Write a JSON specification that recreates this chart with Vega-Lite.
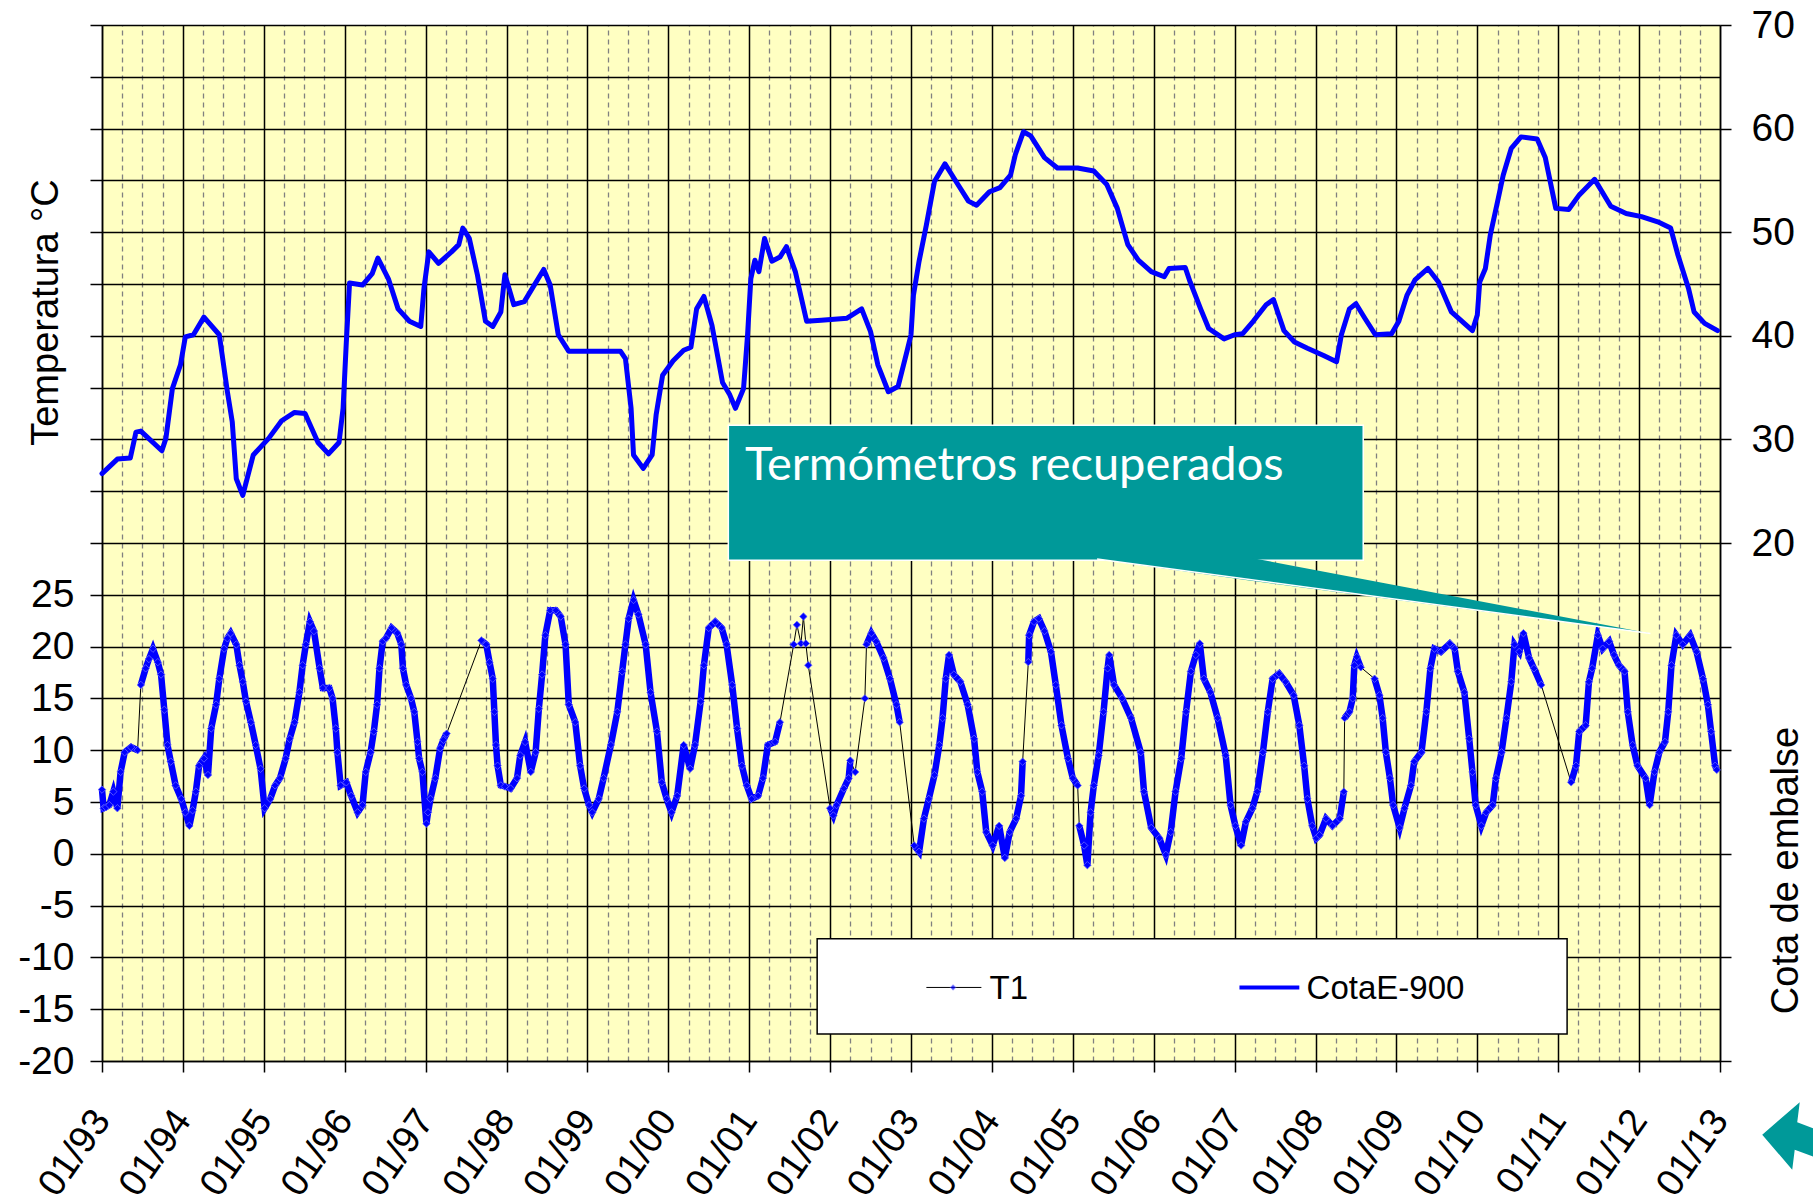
{
"$schema":"https://vega.github.io/schema/vega-lite/v6.json",
"width":1618,"height":1036,
"autosize":{"type":"none"},
"padding":{"left":102,"top":25,"right":93,"bottom":141},
"background":"#ffffff",
"config":{"view":{"fill":"#FFFFC2","stroke":null},"axis":{"labelFont":"Liberation Sans","titleFont":"Liberation Sans","labelColor":"#000000","titleColor":"#000000","titleFontWeight":"normal"}},
"datasets":{
"t1":[
{"yr":1993.00,"t":6.2,"run":1},{"yr":1993.02,"t":4.4,"run":1},{"yr":1993.05,"t":4.5,"run":1},{"yr":1993.09,"t":4.7,"run":1},{"yr":1993.14,"t":6.0,"run":1},{"yr":1993.19,"t":4.4,"run":1},{"yr":1993.23,"t":7.9,"run":1},{"yr":1993.28,"t":9.8,"run":1},{"yr":1993.36,"t":10.3,"run":1},{"yr":1993.44,"t":10.0,"run":1},
{"yr":1993.48,"t":16.3,"run":2},{"yr":1993.54,"t":17.9,"run":2},{"yr":1993.58,"t":18.8,"run":2},{"yr":1993.63,"t":19.8,"run":2},{"yr":1993.69,"t":18.5,"run":2},{"yr":1993.73,"t":17.3,"run":2},{"yr":1993.77,"t":13.9,"run":2},{"yr":1993.81,"t":10.5,"run":2},{"yr":1993.85,"t":8.9,"run":2},{"yr":1993.91,"t":6.6,"run":2},{"yr":1993.98,"t":5.3,"run":2},{"yr":1994.03,"t":4.0,"run":2},{"yr":1994.08,"t":2.7,"run":2},{"yr":1994.12,"t":4.2,"run":2},{"yr":1994.16,"t":6.0,"run":2},{"yr":1994.20,"t":8.5,"run":2},{"yr":1994.26,"t":9.2,"run":2},{"yr":1994.31,"t":7.6,"run":2},{"yr":1994.35,"t":12.1,"run":2},{"yr":1994.41,"t":14.4,"run":2},{"yr":1994.45,"t":16.9,"run":2},{"yr":1994.51,"t":19.8,"run":2},{"yr":1994.55,"t":20.8,"run":2},{"yr":1994.59,"t":21.3,"run":2},{"yr":1994.66,"t":20.2,"run":2},{"yr":1994.70,"t":18.2,"run":2},{"yr":1994.74,"t":16.6,"run":2},{"yr":1994.78,"t":14.7,"run":2},{"yr":1994.84,"t":12.7,"run":2},{"yr":1994.90,"t":10.5,"run":2},{"yr":1994.96,"t":8.2,"run":2},{"yr":1995.01,"t":4.4,"run":2},{"yr":1995.08,"t":5.3,"run":2},{"yr":1995.14,"t":6.6,"run":2},{"yr":1995.20,"t":7.3,"run":2},{"yr":1995.27,"t":9.2,"run":2},{"yr":1995.32,"t":11.1,"run":2},{"yr":1995.38,"t":12.7,"run":2},{"yr":1995.44,"t":15.6,"run":2},{"yr":1995.48,"t":18.2,"run":2},{"yr":1995.52,"t":20.2,"run":2},{"yr":1995.57,"t":22.4,"run":2},{"yr":1995.62,"t":21.5,"run":2},{"yr":1995.69,"t":17.9,"run":2},{"yr":1995.73,"t":16.0,"run":2},{"yr":1995.81,"t":16.0,"run":2},{"yr":1995.85,"t":15.0,"run":2},{"yr":1995.89,"t":12.1,"run":2},{"yr":1995.91,"t":9.8,"run":2},{"yr":1995.95,"t":6.6,"run":2},{"yr":1996.02,"t":6.9,"run":2},{"yr":1996.08,"t":5.6,"run":2},{"yr":1996.16,"t":4.0,"run":2},{"yr":1996.22,"t":4.7,"run":2},{"yr":1996.26,"t":7.9,"run":2},{"yr":1996.32,"t":9.8,"run":2},{"yr":1996.36,"t":11.8,"run":2},{"yr":1996.40,"t":14.4,"run":2},{"yr":1996.43,"t":17.9,"run":2},{"yr":1996.47,"t":20.5,"run":2},{"yr":1996.51,"t":20.8,"run":2},{"yr":1996.58,"t":21.8,"run":2},{"yr":1996.65,"t":21.3,"run":2},{"yr":1996.70,"t":20.2,"run":2},{"yr":1996.72,"t":17.9,"run":2},{"yr":1996.76,"t":16.3,"run":2},{"yr":1996.82,"t":15.0,"run":2},{"yr":1996.86,"t":13.7,"run":2},{"yr":1996.90,"t":10.8,"run":2},{"yr":1996.92,"t":9.2,"run":2},{"yr":1996.96,"t":7.9,"run":2},{"yr":1997.01,"t":2.9,"run":2},{"yr":1997.03,"t":4.0,"run":2},{"yr":1997.06,"t":5.3,"run":2},{"yr":1997.12,"t":7.3,"run":2},{"yr":1997.18,"t":10.2,"run":2},{"yr":1997.22,"t":11.0,"run":2},{"yr":1997.26,"t":11.6,"run":2},
{"yr":1997.69,"t":20.6,"run":3},{"yr":1997.75,"t":20.2,"run":3},{"yr":1997.79,"t":18.5,"run":3},{"yr":1997.83,"t":16.9,"run":3},{"yr":1997.85,"t":13.7,"run":3},{"yr":1997.87,"t":10.5,"run":3},{"yr":1997.89,"t":8.5,"run":3},{"yr":1997.93,"t":6.6,"run":3},{"yr":1997.98,"t":6.5,"run":3},{"yr":1998.05,"t":6.3,"run":3},{"yr":1998.13,"t":7.3,"run":3},{"yr":1998.17,"t":9.5,"run":3},{"yr":1998.23,"t":10.8,"run":3},{"yr":1998.30,"t":7.9,"run":3},{"yr":1998.36,"t":9.8,"run":3},{"yr":1998.40,"t":14.0,"run":3},{"yr":1998.44,"t":17.3,"run":3},{"yr":1998.48,"t":21.1,"run":3},{"yr":1998.54,"t":23.5,"run":3},{"yr":1998.61,"t":23.5,"run":3},{"yr":1998.67,"t":22.9,"run":3},{"yr":1998.73,"t":20.2,"run":3},{"yr":1998.77,"t":14.4,"run":3},{"yr":1998.85,"t":12.7,"run":3},{"yr":1998.91,"t":8.5,"run":3},{"yr":1998.96,"t":6.3,"run":3},{"yr":1999.02,"t":4.7,"run":3},{"yr":1999.06,"t":4.0,"run":3},{"yr":1999.14,"t":5.3,"run":3},{"yr":1999.20,"t":7.3,"run":3},{"yr":1999.29,"t":10.5,"run":3},{"yr":1999.37,"t":13.7,"run":3},{"yr":1999.43,"t":17.6,"run":3},{"yr":1999.47,"t":20.2,"run":3},{"yr":1999.51,"t":22.7,"run":3},{"yr":1999.57,"t":24.5,"run":3},{"yr":1999.63,"t":23.1,"run":3},{"yr":1999.72,"t":20.2,"run":3},{"yr":1999.78,"t":15.6,"run":3},{"yr":1999.86,"t":11.8,"run":3},{"yr":1999.92,"t":6.9,"run":3},{"yr":1999.98,"t":5.3,"run":3},{"yr":2000.04,"t":4.0,"run":3},{"yr":2000.11,"t":5.6,"run":3},{"yr":2000.19,"t":10.5,"run":3},{"yr":2000.27,"t":8.2,"run":3},{"yr":2000.33,"t":10.5,"run":3},{"yr":2000.40,"t":14.7,"run":3},{"yr":2000.44,"t":18.2,"run":3},{"yr":2000.50,"t":21.8,"run":3},{"yr":2000.58,"t":22.4,"run":3},{"yr":2000.66,"t":21.8,"run":3},{"yr":2000.72,"t":20.2,"run":3},{"yr":2000.79,"t":16.3,"run":3},{"yr":2000.85,"t":12.1,"run":3},{"yr":2000.91,"t":8.5,"run":3},{"yr":2000.97,"t":6.6,"run":3},{"yr":2001.03,"t":5.3,"run":3},{"yr":2001.11,"t":5.6,"run":3},{"yr":2001.17,"t":7.3,"run":3},{"yr":2001.23,"t":10.5,"run":3},{"yr":2001.32,"t":10.8,"run":3},{"yr":2001.38,"t":12.7,"run":3},
{"yr":2001.55,"t":20.2,"run":4},{"yr":2001.59,"t":22.1,"run":5},{"yr":2001.64,"t":20.3,"run":6},{"yr":2001.67,"t":22.9,"run":7},{"yr":2001.70,"t":20.3,"run":8},{"yr":2001.73,"t":18.2,"run":9},
{"yr":2002.00,"t":4.4,"run":10},{"yr":2002.04,"t":3.7,"run":10},{"yr":2002.08,"t":4.7,"run":10},{"yr":2002.17,"t":6.3,"run":10},{"yr":2002.23,"t":7.3,"run":10},{"yr":2002.25,"t":9.0,"run":10},
{"yr":2002.31,"t":7.9,"run":11},{"yr":2002.43,"t":15.0,"run":12},
{"yr":2002.45,"t":20.2,"run":13},{"yr":2002.51,"t":21.3,"run":13},{"yr":2002.57,"t":20.5,"run":13},{"yr":2002.66,"t":18.9,"run":13},{"yr":2002.74,"t":16.9,"run":13},{"yr":2002.82,"t":14.4,"run":13},{"yr":2002.86,"t":12.7,"run":13},
{"yr":2003.04,"t":0.8,"run":14},{"yr":2003.10,"t":0.2,"run":14},{"yr":2003.16,"t":3.4,"run":14},{"yr":2003.22,"t":5.3,"run":14},{"yr":2003.29,"t":7.6,"run":14},{"yr":2003.35,"t":10.5,"run":14},{"yr":2003.39,"t":13.1,"run":14},{"yr":2003.43,"t":16.9,"run":14},{"yr":2003.47,"t":19.2,"run":14},{"yr":2003.53,"t":17.3,"run":14},{"yr":2003.61,"t":16.6,"run":14},{"yr":2003.70,"t":14.4,"run":14},{"yr":2003.78,"t":11.1,"run":14},{"yr":2003.82,"t":7.9,"run":14},{"yr":2003.88,"t":6.0,"run":14},{"yr":2003.93,"t":2.1,"run":14},{"yr":2004.01,"t":0.8,"run":14},{"yr":2004.09,"t":2.7,"run":14},{"yr":2004.16,"t":-0.4,"run":14},{"yr":2004.22,"t":2.1,"run":14},{"yr":2004.30,"t":3.4,"run":14},{"yr":2004.36,"t":5.6,"run":14},{"yr":2004.38,"t":8.9,"run":14},
{"yr":2004.45,"t":18.5,"run":15},{"yr":2004.46,"t":21.1,"run":15},{"yr":2004.52,"t":22.4,"run":15},{"yr":2004.58,"t":22.7,"run":15},{"yr":2004.65,"t":21.5,"run":15},{"yr":2004.73,"t":19.5,"run":15},{"yr":2004.79,"t":16.3,"run":15},{"yr":2004.86,"t":12.4,"run":15},{"yr":2004.94,"t":9.2,"run":15},{"yr":2005.00,"t":7.3,"run":15},{"yr":2005.06,"t":6.6,"run":15},
{"yr":2005.08,"t":2.7,"run":16},{"yr":2005.14,"t":0.8,"run":16},{"yr":2005.18,"t":-1.1,"run":16},{"yr":2005.22,"t":4.0,"run":16},{"yr":2005.26,"t":6.6,"run":16},{"yr":2005.32,"t":9.5,"run":16},{"yr":2005.38,"t":13.7,"run":16},{"yr":2005.43,"t":17.9,"run":16},{"yr":2005.45,"t":19.2,"run":16},{"yr":2005.51,"t":16.3,"run":16},{"yr":2005.61,"t":15.0,"run":16},{"yr":2005.72,"t":13.1,"run":16},{"yr":2005.84,"t":9.8,"run":16},{"yr":2005.88,"t":6.0,"run":16},{"yr":2005.97,"t":2.5,"run":16},{"yr":2006.07,"t":1.5,"run":16},{"yr":2006.15,"t":-0.1,"run":16},{"yr":2006.21,"t":2.1,"run":16},{"yr":2006.27,"t":6.0,"run":16},{"yr":2006.34,"t":9.2,"run":16},{"yr":2006.40,"t":13.7,"run":16},{"yr":2006.46,"t":17.6,"run":16},{"yr":2006.52,"t":19.2,"run":16},{"yr":2006.57,"t":20.3,"run":16},{"yr":2006.62,"t":16.9,"run":16},{"yr":2006.70,"t":15.6,"run":16},{"yr":2006.79,"t":13.1,"run":16},{"yr":2006.89,"t":9.5,"run":16},{"yr":2006.95,"t":4.7,"run":16},{"yr":2007.01,"t":2.7,"run":16},{"yr":2007.08,"t":0.8,"run":16},{"yr":2007.14,"t":3.1,"run":16},{"yr":2007.22,"t":4.4,"run":16},{"yr":2007.28,"t":6.0,"run":16},{"yr":2007.35,"t":9.8,"run":16},{"yr":2007.41,"t":13.7,"run":16},{"yr":2007.47,"t":16.9,"run":16},{"yr":2007.55,"t":17.4,"run":16},{"yr":2007.63,"t":16.6,"run":16},{"yr":2007.73,"t":15.3,"run":16},{"yr":2007.80,"t":12.4,"run":16},{"yr":2007.86,"t":8.5,"run":16},{"yr":2007.90,"t":5.3,"run":16},{"yr":2007.96,"t":2.7,"run":16},{"yr":2008.01,"t":1.5,"run":16},{"yr":2008.05,"t":1.8,"run":16},{"yr":2008.13,"t":3.4,"run":16},{"yr":2008.21,"t":2.7,"run":16},{"yr":2008.30,"t":3.4,"run":16},{"yr":2008.35,"t":6.0,"run":16},
{"yr":2008.36,"t":13.1,"run":17},{"yr":2008.42,"t":13.7,"run":17},{"yr":2008.46,"t":15.0,"run":17},{"yr":2008.48,"t":18.2,"run":17},{"yr":2008.51,"t":19.0,"run":17},{"yr":2008.56,"t":18.0,"run":17},
{"yr":2008.73,"t":16.9,"run":18},{"yr":2008.79,"t":15.3,"run":18},{"yr":2008.83,"t":13.1,"run":18},{"yr":2008.87,"t":9.8,"run":18},{"yr":2008.92,"t":7.3,"run":18},{"yr":2008.96,"t":4.7,"run":18},{"yr":2009.04,"t":2.5,"run":18},{"yr":2009.10,"t":4.4,"run":18},{"yr":2009.18,"t":6.6,"run":18},{"yr":2009.22,"t":8.9,"run":18},{"yr":2009.31,"t":9.8,"run":18},{"yr":2009.37,"t":13.7,"run":18},{"yr":2009.42,"t":17.9,"run":18},{"yr":2009.47,"t":19.8,"run":18},{"yr":2009.55,"t":19.5,"run":18},{"yr":2009.66,"t":20.3,"run":18},{"yr":2009.72,"t":19.8,"run":18},{"yr":2009.76,"t":17.6,"run":18},{"yr":2009.84,"t":15.6,"run":18},{"yr":2009.90,"t":11.1,"run":18},{"yr":2009.94,"t":7.9,"run":18},{"yr":2009.98,"t":4.7,"run":18},{"yr":2010.05,"t":2.7,"run":18},{"yr":2010.11,"t":4.0,"run":18},{"yr":2010.19,"t":4.7,"run":18},{"yr":2010.23,"t":7.3,"run":18},{"yr":2010.30,"t":9.8,"run":18},{"yr":2010.36,"t":13.1,"run":18},{"yr":2010.42,"t":16.6,"run":18},{"yr":2010.46,"t":20.2,"run":18},{"yr":2010.52,"t":19.5,"run":18},{"yr":2010.57,"t":21.3,"run":18},{"yr":2010.64,"t":18.9,"run":18},{"yr":2010.70,"t":17.9,"run":18},{"yr":2010.79,"t":16.3,"run":18},
{"yr":2011.16,"t":6.9,"run":19},{"yr":2011.22,"t":8.5,"run":19},{"yr":2011.26,"t":11.8,"run":19},{"yr":2011.34,"t":12.4,"run":19},{"yr":2011.38,"t":16.6,"run":19},{"yr":2011.42,"t":17.9,"run":19},{"yr":2011.49,"t":21.1,"run":19},{"yr":2011.55,"t":19.8,"run":19},{"yr":2011.63,"t":20.5,"run":19},{"yr":2011.69,"t":19.2,"run":19},{"yr":2011.75,"t":18.2,"run":19},{"yr":2011.82,"t":17.6,"run":19},{"yr":2011.86,"t":13.7,"run":19},{"yr":2011.92,"t":10.5,"run":19},{"yr":2011.98,"t":8.5,"run":19},{"yr":2012.08,"t":7.3,"run":19},{"yr":2012.13,"t":4.7,"run":19},{"yr":2012.19,"t":7.9,"run":19},{"yr":2012.25,"t":9.8,"run":19},{"yr":2012.32,"t":10.8,"run":19},{"yr":2012.36,"t":13.7,"run":19},{"yr":2012.40,"t":18.2,"run":19},{"yr":2012.46,"t":21.1,"run":19},{"yr":2012.54,"t":20.2,"run":19},{"yr":2012.63,"t":21.1,"run":19},{"yr":2012.71,"t":19.5,"run":19},{"yr":2012.79,"t":16.9,"run":19},{"yr":2012.85,"t":14.4,"run":19},{"yr":2012.89,"t":11.8,"run":19},{"yr":2012.94,"t":8.5,"run":19},{"yr":2012.96,"t":8.1,"run":19}
],
"cota":[
{"yr":1993.00,"c":26.7},{"yr":1993.19,"c":28.1},{"yr":1993.35,"c":28.2},{"yr":1993.42,"c":30.7},{"yr":1993.48,"c":30.8},{"yr":1993.74,"c":28.9},{"yr":1993.79,"c":30.1},{"yr":1993.87,"c":34.9},{"yr":1993.97,"c":37.2},{"yr":1994.03,"c":39.9},{"yr":1994.13,"c":40.1},{"yr":1994.26,"c":41.8},{"yr":1994.45,"c":40.1},{"yr":1994.55,"c":34.6},{"yr":1994.61,"c":31.7},{"yr":1994.66,"c":26.2},{"yr":1994.74,"c":24.6},{"yr":1994.87,"c":28.5},{"yr":1995.06,"c":30.1},{"yr":1995.22,"c":31.8},{"yr":1995.38,"c":32.6},{"yr":1995.51,"c":32.5},{"yr":1995.67,"c":29.7},{"yr":1995.80,"c":28.6},{"yr":1995.93,"c":29.7},{"yr":1995.98,"c":33.0},{"yr":1996.02,"c":39.4},{"yr":1996.06,"c":45.1},{"yr":1996.22,"c":44.9},{"yr":1996.34,"c":46.0},{"yr":1996.41,"c":47.5},{"yr":1996.54,"c":45.5},{"yr":1996.66,"c":42.6},{"yr":1996.80,"c":41.4},{"yr":1996.94,"c":40.9},{"yr":1996.98,"c":44.6},{"yr":1997.04,"c":48.1},{"yr":1997.16,"c":47.0},{"yr":1997.32,"c":48.1},{"yr":1997.41,"c":48.8},{"yr":1997.46,"c":50.4},{"yr":1997.54,"c":49.4},{"yr":1997.64,"c":45.9},{"yr":1997.74,"c":41.4},{"yr":1997.83,"c":40.9},{"yr":1997.93,"c":42.3},{"yr":1997.98,"c":45.9},{"yr":1998.03,"c":44.6},{"yr":1998.09,"c":43.0},{"yr":1998.22,"c":43.3},{"yr":1998.46,"c":46.4},{"yr":1998.54,"c":44.9},{"yr":1998.64,"c":40.1},{"yr":1998.77,"c":38.5},{"yr":1999.41,"c":38.5},{"yr":1999.47,"c":37.8},{"yr":1999.54,"c":33.0},{"yr":1999.57,"c":28.5},{"yr":1999.69,"c":27.2},{"yr":1999.80,"c":28.5},{"yr":1999.85,"c":32.4},{"yr":1999.93,"c":36.2},{"yr":2000.06,"c":37.6},{"yr":2000.19,"c":38.6},{"yr":2000.28,"c":38.9},{"yr":2000.35,"c":42.6},{"yr":2000.44,"c":43.8},{"yr":2000.54,"c":41.0},{"yr":2000.67,"c":35.5},{"yr":2000.76,"c":34.3},{"yr":2000.83,"c":33.0},{"yr":2000.93,"c":34.9},{"yr":2000.98,"c":40.1},{"yr":2001.02,"c":45.5},{"yr":2001.07,"c":47.3},{"yr":2001.12,"c":46.2},{"yr":2001.19,"c":49.4},{"yr":2001.28,"c":47.2},{"yr":2001.38,"c":47.6},{"yr":2001.46,"c":48.6},{"yr":2001.57,"c":46.2},{"yr":2001.71,"c":41.4},{"yr":2001.89,"c":41.5},{"yr":2002.21,"c":41.7},{"yr":2002.39,"c":42.6},{"yr":2002.50,"c":40.4},{"yr":2002.59,"c":37.2},{"yr":2002.72,"c":34.6},{"yr":2002.84,"c":35.1},{"yr":2002.95,"c":38.5},{"yr":2003.00,"c":40.1},{"yr":2003.03,"c":43.9},{"yr":2003.10,"c":47.2},{"yr":2003.19,"c":50.7},{"yr":2003.29,"c":54.9},{"yr":2003.42,"c":56.6},{"yr":2003.58,"c":54.6},{"yr":2003.71,"c":53.0},{"yr":2003.81,"c":52.6},{"yr":2003.97,"c":53.9},{"yr":2004.10,"c":54.3},{"yr":2004.23,"c":55.5},{"yr":2004.29,"c":57.5},{"yr":2004.39,"c":59.7},{"yr":2004.48,"c":59.3},{"yr":2004.65,"c":57.2},{"yr":2004.81,"c":56.2},{"yr":2005.06,"c":56.2},{"yr":2005.26,"c":55.9},{"yr":2005.42,"c":54.6},{"yr":2005.55,"c":52.3},{"yr":2005.68,"c":48.8},{"yr":2005.81,"c":47.3},{"yr":2005.97,"c":46.2},{"yr":2006.13,"c":45.7},{"yr":2006.19,"c":46.5},{"yr":2006.39,"c":46.6},{"yr":2006.45,"c":45.2},{"yr":2006.58,"c":42.6},{"yr":2006.68,"c":40.7},{"yr":2006.87,"c":39.7},{"yr":2007.00,"c":40.1},{"yr":2007.10,"c":40.2},{"yr":2007.23,"c":41.4},{"yr":2007.39,"c":43.0},{"yr":2007.48,"c":43.5},{"yr":2007.61,"c":40.5},{"yr":2007.74,"c":39.4},{"yr":2007.90,"c":38.8},{"yr":2008.10,"c":38.1},{"yr":2008.26,"c":37.5},{"yr":2008.32,"c":40.1},{"yr":2008.42,"c":42.6},{"yr":2008.50,"c":43.1},{"yr":2008.61,"c":41.7},{"yr":2008.74,"c":40.1},{"yr":2008.94,"c":40.2},{"yr":2009.03,"c":41.4},{"yr":2009.13,"c":43.9},{"yr":2009.23,"c":45.4},{"yr":2009.39,"c":46.5},{"yr":2009.52,"c":45.2},{"yr":2009.68,"c":42.3},{"yr":2009.94,"c":40.5},{"yr":2010.00,"c":42.0},{"yr":2010.03,"c":45.2},{"yr":2010.10,"c":46.5},{"yr":2010.16,"c":49.7},{"yr":2010.26,"c":53.3},{"yr":2010.32,"c":55.5},{"yr":2010.42,"c":58.1},{"yr":2010.54,"c":59.2},{"yr":2010.74,"c":59.0},{"yr":2010.84,"c":57.2},{"yr":2010.97,"c":52.3},{"yr":2011.13,"c":52.2},{"yr":2011.26,"c":53.6},{"yr":2011.45,"c":55.1},{"yr":2011.65,"c":52.5},{"yr":2011.84,"c":51.8},{"yr":2012.03,"c":51.5},{"yr":2012.23,"c":51.0},{"yr":2012.39,"c":50.4},{"yr":2012.48,"c":47.8},{"yr":2012.61,"c":44.6},{"yr":2012.68,"c":42.3},{"yr":2012.81,"c":41.2},{"yr":2012.97,"c":40.5}
]
},
"layer":[
{
"data":{"name":"cota"},
"mark":{"type":"line","color":"#0000ff","strokeWidth":5,"strokeJoin":"round","strokeCap":"round"},
"encoding":{
"x":{"field":"yr","type":"quantitative","scale":{"domain":[1993,2013],"nice":false,"zero":false},
"axis":{"orient":"top","values":[1993.25,1993.5,1993.75,1994.25,1994.5,1994.75,1995.25,1995.5,1995.75,1996.25,1996.5,1996.75,1997.25,1997.5,1997.75,1998.25,1998.5,1998.75,1999.25,1999.5,1999.75,2000.25,2000.5,2000.75,2001.25,2001.5,2001.75,2002.25,2002.5,2002.75,2003.25,2003.5,2003.75,2004.25,2004.5,2004.75,2005.25,2005.5,2005.75,2006.25,2006.5,2006.75,2007.25,2007.5,2007.75,2008.25,2008.5,2008.75,2009.25,2009.5,2009.75,2010.25,2010.5,2010.75,2011.25,2011.5,2011.75,2012.25,2012.5,2012.75],"grid":true,"gridColor":"#808080","gridDash":[5,4],"gridWidth":1.3,"gridOpacity":1,"labels":false,"ticks":false,"domain":false,"title":null}},
"y":{"field":"c","type":"quantitative","scale":{"domain":[-30,70],"nice":false,"zero":false},
"axis":{"orient":"right","values":[-30,-20,-10,0,10,20,30,40,50,60,70],"labelExpr":"datum.value >= 20 ? '' + datum.value : ''","grid":false,"tickSize":11,"tickColor":"#000000","tickWidth":1.5,"domainColor":"#000000","domainWidth":1.5,"labelFontSize":39,"labelPadding":20,"labelFlush":false,"labelOverlap":false,"title":"Cota de embalse","titleFontSize":38,"titleAngle":-90,"titleX":66,"titleY":845,"titleAlign":"center","titleBaseline":"middle"}}
}
},
{
"layer":[
{
"data":{"name":"t1"},
"mark":{"type":"line","color":"#000000","strokeWidth":1},
"encoding":{
"x":{"field":"yr","type":"quantitative","scale":{"domain":[1993,2013],"nice":false,"zero":false},
"axis":{"orient":"bottom","values":[1993,1994,1995,1996,1997,1998,1999,2000,2001,2002,2003,2004,2005,2006,2007,2008,2009,2010,2011,2012,2013],"labelExpr":"'01/' + format(datum.value % 100, '02d')","labelAngle":-55,"labelAlign":"right","labelBaseline":"middle","labelFontSize":38,"labelPadding":42,"labelDx":-8,"labelFlush":false,"labelOverlap":false,"tickSize":11,"tickColor":"#000000","tickWidth":1.5,"domainColor":"#000000","domainWidth":1.5,"grid":true,"gridColor":"#000000","gridWidth":1.5,"gridOpacity":1,"title":null}},
"y":{"field":"t","type":"quantitative","scale":{"domain":[-20,80],"nice":false,"zero":false},
"axis":{"orient":"left","values":[-20,-15,-10,-5,0,5,10,15,20,25,30,35,40,45,50,55,60,65,70,75,80],"labelExpr":"datum.value <= 25 ? '' + datum.value : ''","grid":true,"gridColor":"#000000","gridWidth":1.5,"gridOpacity":1,"tickSize":12,"tickColor":"#000000","tickWidth":1.5,"domainColor":"#000000","domainWidth":1.5,"labelFontSize":39,"labelPadding":16,"labelFlush":false,"labelOverlap":false,"title":"Temperatura °C","titleFontSize":38,"titleAngle":-90,"titleX":-56,"titleY":287,"titleAlign":"center","titleBaseline":"middle"}}
}
},
{
"data":{"name":"t1"},
"mark":{"type":"line","color":"#0000ff","strokeWidth":6.5},
"encoding":{
"x":{"field":"yr","type":"quantitative"},
"y":{"field":"t","type":"quantitative"},
"detail":{"field":"run","type":"nominal"}
}
},
{
"data":{"name":"t1"},
"mark":{"type":"point","shape":"diamond","filled":true,"size":55,"fill":"#0000ff","stroke":"#6666ff","strokeWidth":0.8,"opacity":1},
"encoding":{
"x":{"field":"yr","type":"quantitative"},
"y":{"field":"t","type":"quantitative"}
}
},
{
"data":{"values":[{"yr":2000.742,"yr2":2008.59,"v":41.37,"v2":28.34}]},
"mark":{"type":"rect","fill":"#009999","stroke":"#ffffff","strokeWidth":1.5},
"encoding":{
"x":{"field":"yr","type":"quantitative"},"x2":{"field":"yr2"},
"y":{"field":"v","type":"quantitative"},"y2":{"field":"v2"}
}
},
{
"data":{"values":[{"yr":2005.30,"v":28.6,"v2":28.45},{"yr":2007.18,"v":28.6,"v2":26.39},{"yr":2012.14,"v":21.26,"v2":21.26}]},
"mark":{"type":"area","fill":"#009999","stroke":null},
"encoding":{
"x":{"field":"yr","type":"quantitative"},
"y":{"field":"v","type":"quantitative"},"y2":{"field":"v2"}
}
},
{
"data":{"values":[{"yr":2005.30,"v":28.45},{"yr":2012.14,"v":21.26}]},
"mark":{"type":"line","color":"#ffffff","strokeWidth":1.5},
"encoding":{
"x":{"field":"yr","type":"quantitative"},
"y":{"field":"v","type":"quantitative"}
}
},
{
"data":{"values":[{"yr":2000.947,"v":36.06,"label":"Termómetros recuperados"}]},
"mark":{"type":"text","align":"left","baseline":"alphabetic","font":"Lato","fontSize":47,"color":"#ffffff"},
"encoding":{
"x":{"field":"yr","type":"quantitative"},
"y":{"field":"v","type":"quantitative"},
"text":{"field":"label"}
}
},
{
"data":{"values":[{"yr":2001.84,"yr2":2011.11,"v":-8.2,"v2":-17.4}]},
"mark":{"type":"rect","fill":"#ffffff","stroke":"#000000","strokeWidth":1.5},
"encoding":{
"x":{"field":"yr","type":"quantitative"},"x2":{"field":"yr2"},
"y":{"field":"v","type":"quantitative"},"y2":{"field":"v2"}
}
},
{
"data":{"values":[{"yr":2003.19,"yr2":2003.87,"v":-12.9}]},
"mark":{"type":"rule","color":"#000000","strokeWidth":1},
"encoding":{
"x":{"field":"yr","type":"quantitative"},"x2":{"field":"yr2"},
"y":{"field":"v","type":"quantitative"}
}
},
{
"data":{"values":[{"yr":2003.52,"v":-12.9}]},
"mark":{"type":"point","shape":"diamond","filled":true,"size":30,"fill":"#0000ff","stroke":"#6666ff","strokeWidth":0.8},
"encoding":{
"x":{"field":"yr","type":"quantitative"},
"y":{"field":"v","type":"quantitative"}
}
},
{
"data":{"values":[{"yr":2007.06,"yr2":2007.80,"v":-12.9}]},
"mark":{"type":"rule","color":"#0000ff","strokeWidth":4},
"encoding":{
"x":{"field":"yr","type":"quantitative"},"x2":{"field":"yr2"},
"y":{"field":"v","type":"quantitative"}
}
},
{
"data":{"values":[{"yr":2003.97,"v":-13.97,"label":"T1"},{"yr":2007.89,"v":-13.97,"label":"CotaE-900"}]},
"mark":{"type":"text","align":"left","baseline":"alphabetic","font":"Liberation Sans","fontSize":33,"color":"#000000"},
"encoding":{
"x":{"field":"yr","type":"quantitative"},
"y":{"field":"v","type":"quantitative"},
"text":{"field":"label"}
}
},
{
"data":{"values":[{"yr":2014.14,"v":-28.8}]},
"mark":{"type":"point","shape":"M -1 -0.35 L -0.25 -1 L -0.3 -0.6 L 1 -0.1 L 1 0.45 L -0.35 -0.05 L -0.4 0.35 Z","filled":true,"size":10000,"fill":"#009999","stroke":null,"opacity":1},
"encoding":{
"x":{"field":"yr","type":"quantitative"},
"y":{"field":"v","type":"quantitative"}
}
}
]
}
],
"resolve":{"scale":{"x":"independent","y":"independent"},"axis":{"x":"independent","y":"independent"}}
}
